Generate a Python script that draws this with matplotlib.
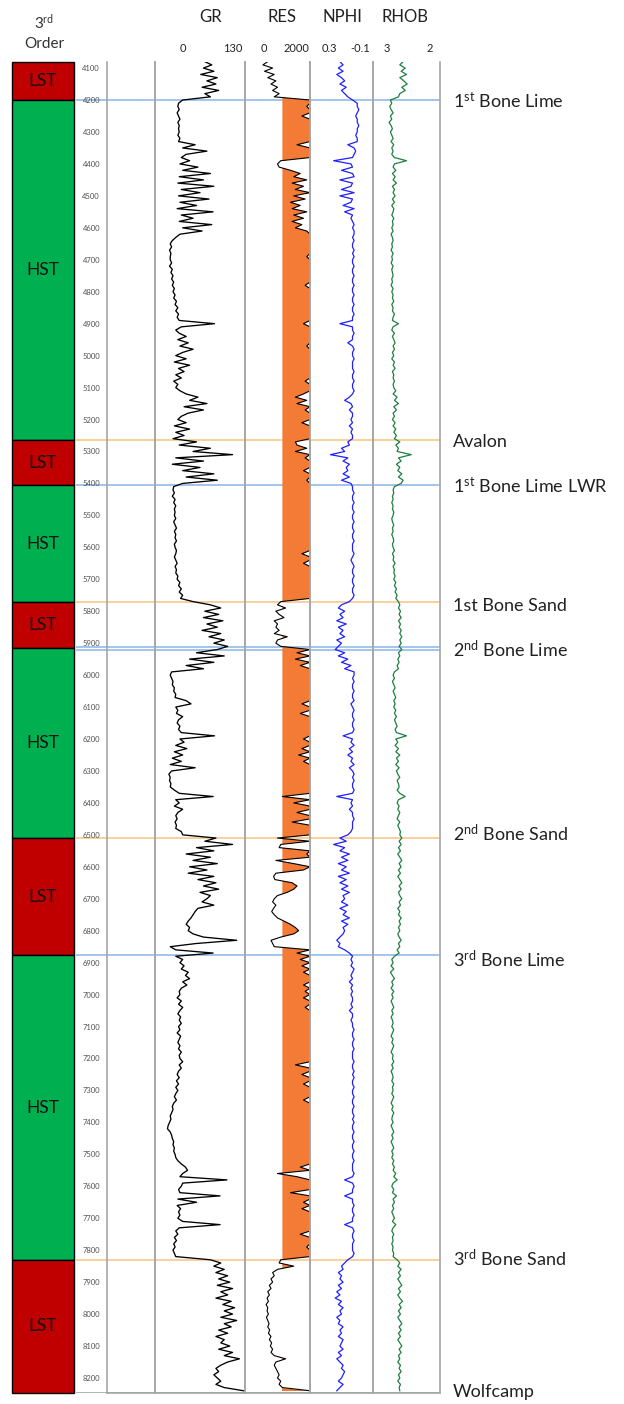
import numpy as np
import matplotlib
matplotlib.use('Agg')
import matplotlib.pyplot as plt
from matplotlib.transforms import blended_transform_factory, ScaledTranslation

plt.rcParams['font.family'] = ['Lato', 'DejaVu Sans']
plt.rcParams['mathtext.fontset'] = 'custom'
plt.rcParams['mathtext.rm'] = 'Lato'
plt.rcParams['mathtext.it'] = 'Lato:italic'
plt.rcParams['mathtext.bf'] = 'Lato:bold'

# ---------------- data ----------------
DEPTH_TOP = 4080      # ft, first sample
DEPTH_STEP = 10       # ft, sample interval

# Gamma ray (API)
GR = [72, 82,
      70, 85, 66, 90, 75, 88, 68, 92, 72, 80,          # 4100
      40, 34, 33, 35, 32, 34, 36, 33, 35, 34,          # 4200
      35, 33, 36, 34, 58, 40, 75, 45, 38, 50,          # 4300
      36, 62, 40, 80, 35, 70, 33, 85, 38, 65,          # 4400
      34, 78, 36, 60, 32, 84, 38, 55, 35, 82,          # 4500
      40, 68, 36, 30, 25, 22, 24, 21, 23, 22,          # 4600
      22, 24, 21, 25, 23, 26, 24, 27, 25, 28,          # 4700
      26, 29, 27, 31, 29, 33, 30, 34, 32, 35,          # 4800
      86, 38, 30, 35, 45, 33, 48, 36, 55, 40,          # 4900
      30, 45, 28, 50, 34, 42, 30, 38, 27, 33,          # 5000
      30, 36, 45, 62, 50, 75, 42, 70, 48, 38,          # 5100
      33, 45, 28, 50, 30, 42, 26, 60, 35, 80,          # 5200
      55, 112, 30, 70, 25, 65, 40, 85, 45, 90,         # 5300
      40, 27, 26, 28, 25, 29, 27, 30, 28, 29,          # 5400
      28, 30, 27, 29, 31, 28, 30, 29, 31, 28,          # 5500
      29, 31, 30, 28, 30, 32, 29, 31, 30, 33,          # 5600
      32, 36, 34, 38, 35, 40, 37, 55, 80, 95,          # 5700
      72, 92, 70, 98, 75, 90, 68, 95, 78, 100,         # 5800
      85, 105, 90, 60, 100, 50, 85, 45, 70, 24,        # 5900
      22, 24, 26, 25, 28, 27, 30, 29, 45, 52,          # 6000
      30, 33, 31, 40, 34, 32, 36, 34, 38, 86,          # 6100
      36, 42, 30, 46, 28, 40, 25, 38, 22, 58,          # 6200
      24, 20, 22, 21, 23, 22, 28, 35, 84, 30,          # 6300
      35, 28, 40, 33, 30, 32, 29, 31, 30, 38,          # 6400
      40, 88, 72, 112, 60, 85, 45, 80, 55, 90,         # 6500
      50, 75, 48, 85, 62, 88, 70, 92, 65, 80,          # 6600
      75, 68, 85, 62, 58, 55, 52, 48, 45, 50,          # 6700
      48, 55, 70, 118, 60, 22, 30, 84, 30, 40,         # 6800
      36, 42, 38, 48, 44, 50, 40, 46, 38, 35,          # 6900
      36, 32, 38, 34, 40, 36, 33, 37, 35, 38,          # 7000
      34, 36, 32, 37, 35, 33, 36, 34, 38, 35,          # 7100
      36, 40, 35, 38, 34, 32, 35, 31, 34, 30,          # 7200
      33, 30, 28, 31, 27, 25, 26, 24, 22, 23,          # 7300
      21, 19, 18, 22, 24, 25, 27, 26, 28, 27,          # 7400
      29, 30, 33, 38, 44, 47, 40, 36, 104, 40,         # 7500
      38, 34, 36, 94, 33, 60, 32, 37, 34, 36,          # 7600
      33, 40, 94, 35, 30, 33, 28, 31, 27, 29,          # 7700
      26, 28, 30, 80, 95, 85, 100, 88, 105, 92,        # 7800
      108, 90, 112, 95, 105, 88, 110, 98, 115, 100,    # 7900
      112, 95, 118, 100, 110, 92, 105, 88, 100, 95,    # 8000
      108, 92, 112, 100, 122, 105, 95, 88, 92, 85,     # 8100
      90, 95, 88, 100, 128]                            # 8200

# Resistivity (ohm-m), display clipped at 2000
RES = [700, 550,
       850, 600, 900, 700, 950, 800, 1000, 850, 1050, 900,
       2000, 2000, 1900, 2000, 2000, 1750, 2000, 2000, 2000, 2000,
       2000, 2000, 2000, 2000, 1600, 2000, 2000, 2000, 2000, 1100,
       1000, 1050, 1400, 1700, 1500, 1900, 1450, 1800, 1550, 2000,
       1500, 1850, 1400, 1700, 1450, 1900, 1500, 1800, 1450, 1750,
       1550, 1900, 2000, 2000, 2000, 2000, 2000, 2000, 2000, 1900,
       2000, 2000, 2000, 2000, 2000, 2000, 2000, 2000, 1850, 2000,
       2000, 2000, 2000, 2000, 2000, 2000, 2000, 2000, 2000, 2000,
       1800, 2000, 2000, 2000, 2000, 2000, 2000, 1900, 2000, 2000,
       2000, 2000, 2000, 2000, 2000, 2000, 2000, 2000, 1850, 2000,
       2000, 2000, 1800, 1550, 1900, 1600, 2000, 1850, 2000, 2000,
       2000, 1750, 2000, 2000, 2000, 2000, 2000, 1550, 1600, 1900,
       1550, 2000, 1850, 2000, 2000, 2000, 1800, 2000, 2000, 1900,
       2000, 2000, 2000, 2000, 2000, 2000, 2000, 2000, 2000, 2000,
       2000, 2000, 2000, 2000, 2000, 2000, 2000, 2000, 2000, 2000,
       2000, 2000, 1750, 2000, 2000, 1800, 2000, 2000, 2000, 2000,
       2000, 2000, 2000, 2000, 2000, 2000, 2000, 1100, 1000, 1250,
       950, 1050, 1200, 900, 1000, 950, 1050, 900, 1300, 1000,
       950, 1100, 2000, 1600, 2000, 1550, 2000, 1700, 2000, 2000,
       2000, 2000, 2000, 2000, 2000, 2000, 2000, 2000, 2000, 1750,
       2000, 2000, 1700, 2000, 2000, 2000, 2000, 2000, 2000, 2000,
       1800, 2000, 2000, 1750, 2000, 1650, 2000, 1800, 2000, 2000,
       2000, 2000, 2000, 2000, 2000, 2000, 2000, 2000, 1150, 2000,
       1500, 2000, 2000, 1600, 2000, 2000, 1450, 2000, 2000, 2000,
       2000, 1000, 2000, 1100, 1050, 2000, 1900, 2000, 950, 1500,
       2000, 1800, 950, 880, 920, 1450, 1600, 1500, 1300, 1000,
       900, 850, 950, 880, 820, 900, 1000, 1200, 1400, 1550,
       1650, 1500, 1100, 800, 850, 900, 2000, 1600, 2000, 1700,
       2000, 1750, 2000, 1800, 2000, 2000, 2000, 1800, 2000, 1850,
       2000, 1800, 2000, 2000, 1850, 2000, 2000, 2000, 2000, 2000,
       2000, 2000, 2000, 2000, 2000, 2000, 2000, 2000, 2000, 2000,
       2000, 2000, 1550, 2000, 2000, 1750, 2000, 2000, 1800, 2000,
       2000, 2000, 2000, 1800, 2000, 2000, 2000, 2000, 2000, 2000,
       2000, 2000, 2000, 2000, 2000, 2000, 2000, 2000, 2000, 2000,
       2000, 2000, 2000, 2000, 1700, 2000, 1000, 1600, 2000, 2000,
       2000, 2000, 1400, 2000, 2000, 1800, 2000, 1750, 2000, 2000,
       2000, 2000, 2000, 2000, 2000, 1700, 2000, 2000, 2000, 1900,
       2000, 2000, 2000, 1100, 1050, 1500, 1000, 850, 900, 800,
       850, 750, 800, 700, 750, 680, 720, 650, 700, 680,
       720, 660, 700, 740, 700, 760, 720, 800, 750, 820,
       780, 850, 800, 900, 1250, 950, 900, 950, 1000, 1050,
       1000, 1100, 1050, 1150, 2000]

# Neutron porosity (porosity units, %)
NPHI_PU = [11, 9,
           12, 9, 13, 10, 8, 11, 7, 10, 8, 6,
           3, 0, 0, -1, 0, 1, 0, 0, -1, 0,
           0, 1, 0, 0, 6, 2, 1, 2, 3, 15,
           4, 3, 10, 3, 2, 11, 3, 4, 10, 2,
           11, 3, 4, 9, 2, 8, 3, 4, 3, 2,
           3, 2, 2, 3, 2, 3, 3, 2, 3, 2,
           3, 3, 2, 3, 3, 2, 3, 3, 2, 3,
           3, 2, 3, 3, 2, 3, 3, 2, 3, 3,
           11, 3, 3, 2, 3, 3, 6, 3, 2, 3,
           3, 2, 3, 3, 3, 2, 3, 3, 2, 3,
           3, 2, 3, 5, 8, 4, 3, 5, 3, 3,
           4, 3, 5, 3, 4, 3, 3, 6, 5, 10,
           8, 17, 6, 9, 5, 7, 6, 9, 5, 10,
           4, 3, 3, 2, 3, 3, 2, 3, 3, 2,
           3, 3, 2, 3, 3, 2, 3, 3, 2, 3,
           3, 3, 2, 3, 4, 3, 2, 3, 3, 2,
           3, 3, 2, 3, 3, 2, 3, 5, 10, 12,
           8, 11, 9, 13, 7, 12, 9, 11, 8, 13,
           10, 12, 14, 8, 12, 6, 10, 4, 8, 2,
           2, 3, 2, 3, 3, 2, 3, 3, 2, 4,
           3, 2, 3, 3, 2, 3, 3, 2, 3, 9,
           3, 4, 2, 5, 3, 6, 3, 4, 2, 5,
           3, 2, 3, 2, 3, 3, 2, 3, 13, 3,
           4, 3, 5, 3, 3, 2, 3, 3, 3, 4,
           6, 11, 7, 15, 8, 11, 5, 10, 6, 12,
           7, 10, 5, 12, 7, 11, 6, 10, 5, 9,
           8, 10, 6, 11, 7, 9, 5, 10, 6, 9,
           8, 9, 11, 13, 11, 12, 8, 5, 3, 4,
           3, 4, 2, 3, 4, 3, 5, 3, 4, 3,
           4, 3, 3, 4, 3, 5, 3, 3, 4, 3,
           3, 2, 3, 3, 2, 3, 3, 2, 3, 3,
           3, 2, 3, 3, 2, 3, 2, 3, 3, 2,
           3, 3, 2, 3, 3, 2, 3, 3, 2, 3,
           2, 3, 3, 2, 3, 3, 2, 3, 3, 2,
           3, 3, 2, 3, 3, 3, 2, 3, 8, 3,
           2, 3, 3, 8, 3, 3, 2, 3, 3, 2,
           3, 3, 8, 3, 2, 3, 3, 2, 3, 3,
           3, 2, 3, 6, 8, 10, 9, 12, 10, 11,
           9, 12, 10, 13, 11, 14, 10, 12, 9, 11,
           10, 13, 11, 12, 9, 11, 10, 12, 9, 10,
           11, 9, 12, 10, 13, 11, 9, 10, 8, 9,
           10, 12, 9, 11, 13]

# Bulk density (g/cc)
RHOB = [2.55, 2.60,
        2.52, 2.58, 2.50, 2.60, 2.54, 2.49, 2.57, 2.52, 2.60, 2.62,
        2.74, 2.72, 2.75, 2.73, 2.70, 2.74, 2.72, 2.76, 2.73, 2.71,
        2.74, 2.72, 2.70, 2.73, 2.69, 2.72, 2.70, 2.72, 2.68, 2.50,
        2.68, 2.70, 2.66, 2.71, 2.67, 2.70, 2.65, 2.71, 2.68, 2.70,
        2.67, 2.71, 2.68, 2.72, 2.69, 2.70, 2.72, 2.69, 2.71, 2.70,
        2.72, 2.70, 2.73, 2.71, 2.70, 2.72, 2.71, 2.73, 2.70, 2.72,
        2.71, 2.73, 2.70, 2.72, 2.71, 2.70, 2.72, 2.71, 2.73, 2.70,
        2.72, 2.70, 2.71, 2.69, 2.72, 2.70, 2.71, 2.68, 2.70, 2.71,
        2.62, 2.70, 2.72, 2.68, 2.71, 2.69, 2.67, 2.70, 2.68, 2.71,
        2.69, 2.72, 2.68, 2.70, 2.67, 2.71, 2.69, 2.70, 2.68, 2.70,
        2.69, 2.66, 2.70, 2.64, 2.68, 2.62, 2.69, 2.65, 2.70, 2.68,
        2.71, 2.67, 2.70, 2.66, 2.69, 2.65, 2.68, 2.60, 2.66, 2.62,
        2.64, 2.43, 2.62, 2.58, 2.65, 2.60, 2.63, 2.57, 2.62, 2.55,
        2.58, 2.68, 2.70, 2.69, 2.71, 2.70, 2.72, 2.70, 2.71, 2.69,
        2.70, 2.72, 2.71, 2.69, 2.71, 2.70, 2.72, 2.70, 2.69, 2.71,
        2.70, 2.68, 2.71, 2.69, 2.70, 2.67, 2.70, 2.68, 2.69, 2.67,
        2.69, 2.66, 2.68, 2.65, 2.67, 2.64, 2.66, 2.62, 2.60, 2.62,
        2.59, 2.61, 2.58, 2.62, 2.59, 2.61, 2.58, 2.60, 2.57, 2.60,
        2.58, 2.61, 2.57, 2.62, 2.60, 2.63, 2.61, 2.64, 2.62, 2.68,
        2.70, 2.68, 2.71, 2.69, 2.67, 2.70, 2.68, 2.66, 2.69, 2.67,
        2.69, 2.66, 2.68, 2.65, 2.68, 2.66, 2.64, 2.67, 2.65, 2.50,
        2.66, 2.63, 2.67, 2.62, 2.66, 2.60, 2.65, 2.62, 2.66, 2.61,
        2.65, 2.63, 2.60, 2.64, 2.62, 2.61, 2.64, 2.60, 2.52, 2.62,
        2.64, 2.61, 2.63, 2.60, 2.62, 2.64, 2.60, 2.63, 2.61, 2.59,
        2.60, 2.57, 2.61, 2.58, 2.62, 2.59, 2.63, 2.60, 2.57, 2.61,
        2.58, 2.62, 2.59, 2.63, 2.60, 2.57, 2.61, 2.58, 2.62, 2.60,
        2.57, 2.61, 2.59, 2.63, 2.60, 2.62, 2.58, 2.61, 2.59, 2.62,
        2.60, 2.63, 2.61, 2.58, 2.62, 2.60, 2.64, 2.61, 2.68, 2.72,
        2.70, 2.73, 2.69, 2.74, 2.71, 2.68, 2.72, 2.70, 2.73, 2.69,
        2.72, 2.70, 2.73, 2.71, 2.69, 2.72, 2.70, 2.73, 2.71, 2.70,
        2.72, 2.69, 2.71, 2.73, 2.70, 2.72, 2.69, 2.71, 2.73, 2.70,
        2.71, 2.69, 2.72, 2.70, 2.73, 2.71, 2.70, 2.72, 2.69, 2.71,
        2.70, 2.72, 2.69, 2.71, 2.73, 2.70, 2.72, 2.69, 2.71, 2.72,
        2.70, 2.73, 2.71, 2.69, 2.72, 2.70, 2.73, 2.71, 2.69, 2.72,
        2.70, 2.72, 2.69, 2.71, 2.68, 2.70, 2.66, 2.69, 2.64, 2.70,
        2.72, 2.69, 2.71, 2.65, 2.70, 2.68, 2.71, 2.69, 2.72, 2.70,
        2.68, 2.71, 2.66, 2.70, 2.72, 2.69, 2.71, 2.70, 2.72, 2.70,
        2.71, 2.69, 2.70, 2.64, 2.60, 2.63, 2.58, 2.62, 2.59, 2.63,
        2.60, 2.57, 2.62, 2.59, 2.63, 2.60, 2.56, 2.61, 2.58, 2.62,
        2.59, 2.63, 2.60, 2.57, 2.61, 2.58, 2.62, 2.59, 2.63, 2.60,
        2.57, 2.61, 2.58, 2.62, 2.60, 2.63, 2.59, 2.61, 2.58, 2.62,
        2.60, 2.63, 2.59, 2.61, 2.60]

# 3rd-order sequences
SEQ_NAMES = ['LST', 'HST', 'LST', 'HST', 'LST', 'HST', 'LST', 'HST', 'LST']
SEQ_TOPS = [4081, 4200, 5265, 5405, 5772, 5916, 6510, 6877, 7830]
LOG_TOP, LOG_BASE = 4081, 8247

# Formation tops
FORM_LABELS = [r'1$^{\mathrm{st}}$ Bone Lime', 'Avalon', r'1$^{\mathrm{st}}$ Bone Lime LWR',
               '1st Bone Sand', r'2$^{\mathrm{nd}}$ Bone Lime', r'2$^{\mathrm{nd}}$ Bone Sand',
               r'3$^{\mathrm{rd}}$ Bone Lime', r'3$^{\mathrm{rd}}$ Bone Sand', 'Wolfcamp']
FORM_DEPTHS = [4203, 5265, 5407, 5778, 5923, 6500, 6894, 7830, 8238]
# lines drawn at formation tops (blue = limes, orange = sands)
LIME_LINES = [4200, 5405, 5911, 5922, 6877]
SAND_LINES = [5265, 5772, 6510, 7830]

DEPTH_TICKS = list(range(4100, 8201, 100))

GR_RANGE = (0, 130)
RES_RANGE = (0, 2000)
RES_CUT = 1150
NPHI_RANGE = (0.3, -0.1)
RHOB_RANGE = (3, 2)

# ---------------- figure ----------------
W, H = 624, 1404
fig = plt.figure(figsize=(W / 100, H / 100), dpi=100)
fig.patch.set_facecolor('white')

Y0, Y1 = 62, 1393


def ax_px(x0, x1, y0=Y0, y1=Y1, z=1):
    ax = fig.add_axes([x0 / W, 1 - y1 / H, (x1 - x0) / W, (y1 - y0) / H], zorder=z)
    ax.set_ylim(LOG_BASE, LOG_TOP)
    ax.patch.set_alpha(0)
    return ax


DEPTH = DEPTH_TOP + DEPTH_STEP * np.arange(len(GR))
GR_A = np.array(GR, float)
RES_A = np.minimum(np.array(RES, float), RES_RANGE[1])
NPHI_A = np.array(NPHI_PU, float) / 100.0
RHOB_A = np.array(RHOB, float)

LIME_C = '#9BBFEA'
SAND_C = '#F9CD92'
GRID_C = '#A6A6A6'

# overlay for formation lines (under tracks)
ov = ax_px(76, 440, z=0)
ov.set_xlim(0, 1)
ov.axis('off')
for d in LIME_LINES:
    ov.axhline(d, color=LIME_C, lw=1.3)
for d in SAND_LINES:
    ov.axhline(d, color=SAND_C, lw=1.3)
ov.axhline(LOG_BASE, color=GRID_C, lw=1.2)

# sequence column
axs = ax_px(12, 74, z=2)
axs.set_xlim(0, 1)
axs.axis('off')
seq_bases = SEQ_TOPS[1:] + [LOG_BASE]
for name, top, base in zip(SEQ_NAMES, SEQ_TOPS, seq_bases):
    col = '#C00000' if name == 'LST' else '#00B050'
    axs.bar(0.5, base - top, bottom=top, width=1.0, color=col,
            edgecolor='black', linewidth=1.0, clip_on=False)
    axs.text(0.5, (top + base) / 2, name, ha='center', va='center',
             fontsize=12.5, color='#111111')


def style_track(ax):
    ax.set_xticks([])
    ax.set_yticks([])
    ax.spines['top'].set_visible(False)
    for s in ('left', 'right', 'bottom'):
        ax.spines[s].set_color(GRID_C)
        ax.spines[s].set_linewidth(1.2)


# depth (empty) track
axd = ax_px(107, 155)
style_track(axd)
axd.set_yticks(DEPTH_TICKS)
axd.set_yticklabels([str(t) for t in DEPTH_TICKS], fontsize=5.5, color='#505050')
axd.tick_params(axis='y', length=0, pad=5)

# GR
axg = ax_px(155, 245)
style_track(axg)
axg.set_xlim(*GR_RANGE)
axg.plot(GR_A, DEPTH, color='black', lw=0.95)

# RES
axr = ax_px(245, 310)
style_track(axr)
axr.set_xlim(*RES_RANGE)
axr.fill_betweenx(DEPTH, RES_CUT, RES_A, where=RES_A > RES_CUT, interpolate=True,
                  color='#F47B35', lw=0)
axr.plot(RES_A, DEPTH, color='black', lw=0.8)

# NPHI
axn = ax_px(310, 373)
style_track(axn)
axn.set_xlim(*NPHI_RANGE)
axn.plot(NPHI_A, DEPTH, color='#2020FF', lw=0.9)

# RHOB
axb = ax_px(373, 440)
style_track(axb)
axb.set_xlim(*RHOB_RANGE)
axb.plot(RHOB_A, DEPTH, color='#1F7F3F', lw=0.9)


# ---------------- header text ----------------
def ftxt(x, y, s, **kw):
    fig.text(x / W, 1 - y / H, s, **kw)


ftxt(44, 22, r'3$^{\mathrm{rd}}$', ha='center', va='center', fontsize=11, color='#333333')
ftxt(44, 44, 'Order', ha='center', va='center', fontsize=11, color='#333333')
for name, xc in [('GR', 211), ('RES', 282), ('NPHI', 342), ('RHOB', 405)]:
    ftxt(xc, 17, name, ha='center', va='center', fontsize=12, color='#222222')
for lab, xc in [('0', 183), ('130', 233), ('0', 264), ('2000', 296),
                ('0.3', 329), ('-0.1', 360), ('3', 387), ('2', 430)]:
    ftxt(xc, 48, lab, ha='center', va='center', fontsize=8, color='#222222')

# formation labels
trans = blended_transform_factory(fig.transFigure, ov.transData) + \
    ScaledTranslation(0, -4.6 / 72, fig.dpi_scale_trans)
for lab, d in zip(FORM_LABELS, FORM_DEPTHS):
    fig.text(453 / W, d, lab, transform=trans, ha='left', va='baseline',
             fontsize=13, color='#222222')

fig.savefig('out.png', dpi=100, facecolor='white')
